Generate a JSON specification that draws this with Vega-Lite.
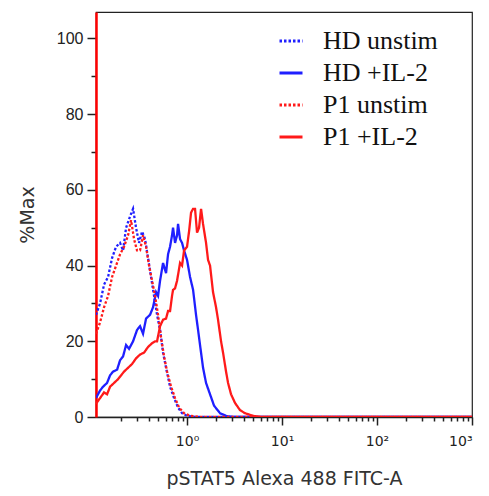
{
  "$schema": "https://vega.github.io/schema/vega-lite/v6.json",
  "width": 376,
  "height": 405,
  "autosize": {"type": "none"},
  "padding": {"left": 96, "top": 12, "right": 17, "bottom": 79},
  "background": "white",
  "config": {
    "view": {"stroke": "#222", "strokeWidth": 1.2},
    "axis": {"grid": false, "tickColor": "#222", "domainColor": "#222", "labelColor": "#222", "titleColor": "#333"}
  },
  "data": {"values": [
    {"s":"HD unstim","x":0.110,"y":27},{"s":"HD unstim","x":0.1214,"y":30},{"s":"HD unstim","x":0.1337,"y":35},{"s":"HD unstim","x":0.1474,"y":37},{"s":"HD unstim","x":0.1624,"y":42},{"s":"HD unstim","x":0.1790,"y":45},{"s":"HD unstim","x":0.1972,"y":46},{"s":"HD unstim","x":0.2120,"y":44},{"s":"HD unstim","x":0.2281,"y":50},{"s":"HD unstim","x":0.2512,"y":53},{"s":"HD unstim","x":0.2702,"y":55},{"s":"HD unstim","x":0.2904,"y":50},{"s":"HD unstim","x":0.3123,"y":46},{"s":"HD unstim","x":0.3358,"y":49},{"s":"HD unstim","x":0.3612,"y":47},{"s":"HD unstim","x":0.3885,"y":42},{"s":"HD unstim","x":0.4178,"y":37},{"s":"HD unstim","x":0.4494,"y":32},{"s":"HD unstim","x":0.4833,"y":27},{"s":"HD unstim","x":0.5197,"y":23},{"s":"HD unstim","x":0.5589,"y":17},{"s":"HD unstim","x":0.6010,"y":13},{"s":"HD unstim","x":0.6623,"y":8},{"s":"HD unstim","x":0.7298,"y":5},{"s":"HD unstim","x":0.8042,"y":2.5},{"s":"HD unstim","x":0.8859,"y":1},{"s":"HD unstim","x":1.0,"y":0.3},{"s":"HD unstim","x":1.214,"y":0},{"s":"HD unstim","x":1000,"y":0},
    {"s":"HD +IL-2","x":0.110,"y":5},{"s":"HD +IL-2","x":0.1214,"y":7},{"s":"HD +IL-2","x":0.1305,"y":8},{"s":"HD +IL-2","x":0.1438,"y":9},{"s":"HD +IL-2","x":0.1547,"y":11},{"s":"HD +IL-2","x":0.1664,"y":12},{"s":"HD +IL-2","x":0.1834,"y":12.5},{"s":"HD +IL-2","x":0.1972,"y":15},{"s":"HD +IL-2","x":0.2120,"y":16},{"s":"HD +IL-2","x":0.2281,"y":19},{"s":"HD +IL-2","x":0.2451,"y":18},{"s":"HD +IL-2","x":0.2702,"y":20},{"s":"HD +IL-2","x":0.2975,"y":23},{"s":"HD +IL-2","x":0.3200,"y":24},{"s":"HD +IL-2","x":0.3441,"y":22},{"s":"HD +IL-2","x":0.3701,"y":26},{"s":"HD +IL-2","x":0.4077,"y":27},{"s":"HD +IL-2","x":0.4386,"y":29},{"s":"HD +IL-2","x":0.4717,"y":33},{"s":"HD +IL-2","x":0.4952,"y":32},{"s":"HD +IL-2","x":0.5197,"y":36},{"s":"HD +IL-2","x":0.5589,"y":40.7},{"s":"HD +IL-2","x":0.6010,"y":38},{"s":"HD +IL-2","x":0.6310,"y":43},{"s":"HD +IL-2","x":0.6623,"y":45},{"s":"HD +IL-2","x":0.6950,"y":48},{"s":"HD +IL-2","x":0.7122,"y":50},{"s":"HD +IL-2","x":0.7478,"y":46},{"s":"HD +IL-2","x":0.7848,"y":48},{"s":"HD +IL-2","x":0.8042,"y":51},{"s":"HD +IL-2","x":0.8441,"y":47},{"s":"HD +IL-2","x":0.8859,"y":46},{"s":"HD +IL-2","x":0.9301,"y":44},{"s":"HD +IL-2","x":1.0,"y":41.5},{"s":"HD +IL-2","x":1.0754,"y":37},{"s":"HD +IL-2","x":1.157,"y":33.6},{"s":"HD +IL-2","x":1.2434,"y":27},{"s":"HD +IL-2","x":1.306,"y":23},{"s":"HD +IL-2","x":1.404,"y":17},{"s":"HD +IL-2","x":1.474,"y":13},{"s":"HD +IL-2","x":1.585,"y":9},{"s":"HD +IL-2","x":1.746,"y":6},{"s":"HD +IL-2","x":1.924,"y":3},{"s":"HD +IL-2","x":2.225,"y":1},{"s":"HD +IL-2","x":2.637,"y":0.2},{"s":"HD +IL-2","x":3.201,"y":0},{"s":"HD +IL-2","x":1000,"y":0},
    {"s":"P1 unstim","x":0.110,"y":22},{"s":"P1 unstim","x":0.1214,"y":25},{"s":"P1 unstim","x":0.1337,"y":29},{"s":"P1 unstim","x":0.1474,"y":32},{"s":"P1 unstim","x":0.1624,"y":37},{"s":"P1 unstim","x":0.1790,"y":40},{"s":"P1 unstim","x":0.1972,"y":43},{"s":"P1 unstim","x":0.2172,"y":45},{"s":"P1 unstim","x":0.2393,"y":48},{"s":"P1 unstim","x":0.2574,"y":52},{"s":"P1 unstim","x":0.2767,"y":47},{"s":"P1 unstim","x":0.2975,"y":44},{"s":"P1 unstim","x":0.3200,"y":44},{"s":"P1 unstim","x":0.3441,"y":48},{"s":"P1 unstim","x":0.3701,"y":45},{"s":"P1 unstim","x":0.3981,"y":40},{"s":"P1 unstim","x":0.4281,"y":36},{"s":"P1 unstim","x":0.4605,"y":32},{"s":"P1 unstim","x":0.4952,"y":27},{"s":"P1 unstim","x":0.5325,"y":21},{"s":"P1 unstim","x":0.5727,"y":16},{"s":"P1 unstim","x":0.6159,"y":12},{"s":"P1 unstim","x":0.6786,"y":8},{"s":"P1 unstim","x":0.7478,"y":5},{"s":"P1 unstim","x":0.8240,"y":2.5},{"s":"P1 unstim","x":0.9301,"y":1},{"s":"P1 unstim","x":1.0754,"y":0.3},{"s":"P1 unstim","x":1.370,"y":0},{"s":"P1 unstim","x":1000,"y":0},
    {"s":"P1 +IL-2","x":0.110,"y":3.5},{"s":"P1 +IL-2","x":0.1214,"y":5},{"s":"P1 +IL-2","x":0.1337,"y":6.5},{"s":"P1 +IL-2","x":0.1438,"y":6},{"s":"P1 +IL-2","x":0.1547,"y":8},{"s":"P1 +IL-2","x":0.1705,"y":9},{"s":"P1 +IL-2","x":0.1878,"y":10},{"s":"P1 +IL-2","x":0.2020,"y":11},{"s":"P1 +IL-2","x":0.2172,"y":12},{"s":"P1 +IL-2","x":0.2393,"y":13},{"s":"P1 +IL-2","x":0.2637,"y":14},{"s":"P1 +IL-2","x":0.2904,"y":15.5},{"s":"P1 +IL-2","x":0.3200,"y":16.5},{"s":"P1 +IL-2","x":0.3525,"y":17},{"s":"P1 +IL-2","x":0.3885,"y":18.5},{"s":"P1 +IL-2","x":0.4281,"y":19.5},{"s":"P1 +IL-2","x":0.4605,"y":20},{"s":"P1 +IL-2","x":0.4833,"y":20},{"s":"P1 +IL-2","x":0.5197,"y":24},{"s":"P1 +IL-2","x":0.5589,"y":25.7},{"s":"P1 +IL-2","x":0.6010,"y":26},{"s":"P1 +IL-2","x":0.6310,"y":28},{"s":"P1 +IL-2","x":0.6623,"y":28},{"s":"P1 +IL-2","x":0.6950,"y":32},{"s":"P1 +IL-2","x":0.7122,"y":33.6},{"s":"P1 +IL-2","x":0.7478,"y":34},{"s":"P1 +IL-2","x":0.7848,"y":36},{"s":"P1 +IL-2","x":0.8441,"y":40.7},{"s":"P1 +IL-2","x":0.8859,"y":40},{"s":"P1 +IL-2","x":0.9301,"y":44},{"s":"P1 +IL-2","x":1.0,"y":45},{"s":"P1 +IL-2","x":1.0497,"y":49},{"s":"P1 +IL-2","x":1.1018,"y":54},{"s":"P1 +IL-2","x":1.157,"y":55},{"s":"P1 +IL-2","x":1.214,"y":55},{"s":"P1 +IL-2","x":1.274,"y":48.7},{"s":"P1 +IL-2","x":1.337,"y":50},{"s":"P1 +IL-2","x":1.404,"y":55},{"s":"P1 +IL-2","x":1.474,"y":51},{"s":"P1 +IL-2","x":1.585,"y":46},{"s":"P1 +IL-2","x":1.664,"y":41.5},{"s":"P1 +IL-2","x":1.746,"y":40},{"s":"P1 +IL-2","x":1.877,"y":33},{"s":"P1 +IL-2","x":2.019,"y":29},{"s":"P1 +IL-2","x":2.120,"y":25.7},{"s":"P1 +IL-2","x":2.280,"y":20},{"s":"P1 +IL-2","x":2.393,"y":17},{"s":"P1 +IL-2","x":2.574,"y":12},{"s":"P1 +IL-2","x":2.702,"y":9},{"s":"P1 +IL-2","x":2.906,"y":6},{"s":"P1 +IL-2","x":3.201,"y":3.7},{"s":"P1 +IL-2","x":3.613,"y":1.8},{"s":"P1 +IL-2","x":4.080,"y":1},{"s":"P1 +IL-2","x":4.95,"y":0.3},{"s":"P1 +IL-2","x":6.153,"y":0},{"s":"P1 +IL-2","x":1000,"y":0}
  ]},
  "layer": [
    {
      "mark": {"type": "line", "strokeOpacity": 0, "clip": true},
      "encoding": {
        "x": {"field": "x", "type": "quantitative", "scale": {"type": "log", "domain": [0.11, 1000], "nice": false},
          "axis": {"orient": "bottom", "values": [0.2,0.3,0.4,0.5,0.6,0.7,0.8,0.9,2,3,4,5,6,7,8,9,20,30,40,50,60,70,80,90,200,300,400,500,600,700,800,900], "labels": false, "tickSize": 4, "tickWidth": 1.5, "domain": false, "title": null}},
        "y": {"field": "y", "type": "quantitative", "scale": {"domain": [0, 107], "nice": false},
          "axis": {"orient": "left", "values": [10,30,50,70,90], "labels": false, "tickSize": 5, "tickWidth": 1.5, "domain": false, "title": null}},
        "detail": {"field": "s"}
      }
    },
    {
      "mark": {"type": "line", "strokeWidth": 2.3, "clip": true, "interpolate": "linear"},
      "encoding": {
        "x": {"field": "x", "type": "quantitative", "scale": {"type": "log", "domain": [0.11, 1000], "nice": false},
          "axis": {"orient": "bottom", "values": [1,10,100,1000], "labelExpr": "datum.value == 1 ? '10⁰' : datum.value == 10 ? '10¹' : datum.value == 100 ? '10²' : '10³'", "tickSize": 8, "tickWidth": 1.5, "domainWidth": 1.5, "labelFont": "DejaVu Sans", "labelFontSize": 14, "labelPadding": 9, "title": "pSTAT5 Alexa 488 FITC-A", "titleFont": "DejaVu Sans", "titleFontSize": 19, "titleFontWeight": "normal", "titlePadding": 21}},
        "y": {"field": "y", "type": "quantitative", "scale": {"domain": [0, 107], "nice": false},
          "axis": {"orient": "left", "values": [0,20,40,60,80,100], "tickSize": 9, "tickWidth": 1.5, "domainColor": "#ff0000", "domainWidth": 2.5, "labelFont": "Liberation Sans", "labelFontSize": 16, "labelPadding": 4, "title": "%Max", "titleFont": "DejaVu Sans", "titleFontSize": 19, "titleFontWeight": "normal", "titlePadding": 19}},
        "color": {"field": "s", "type": "nominal", "sort": ["HD unstim","HD +IL-2","P1 unstim","P1 +IL-2"],
          "scale": {"domain": ["HD unstim","HD +IL-2","P1 unstim","P1 +IL-2"], "range": ["#1f1fff","#1f1fff","#ff1a1a","#ff1a1a"]},
          "legend": {"orient": "none", "legendX": 182, "legendY": 16, "title": null, "symbolType": "stroke", "symbolSize": 529, "symbolStrokeWidth": 3, "labelFont": "Liberation Serif", "labelFontSize": 26, "labelColor": "#111", "labelOffset": 19, "rowPadding": 6, "labelLimit": 300}},
        "strokeDash": {"field": "s", "type": "nominal", "sort": ["HD unstim","HD +IL-2","P1 unstim","P1 +IL-2"],
          "scale": {"domain": ["HD unstim","HD +IL-2","P1 unstim","P1 +IL-2"], "range": [[2.5,2],[1,0],[2.5,2],[1,0]]},
          "legend": {"orient": "none", "legendX": 182, "legendY": 16, "title": null, "symbolType": "stroke", "symbolSize": 529, "symbolStrokeWidth": 3, "labelFont": "Liberation Serif", "labelFontSize": 26, "labelColor": "#111", "labelOffset": 19, "rowPadding": 6, "labelLimit": 300}}
      }
    }
  ],
  "resolve": {"axis": {"x": "independent", "y": "independent"}}
}
